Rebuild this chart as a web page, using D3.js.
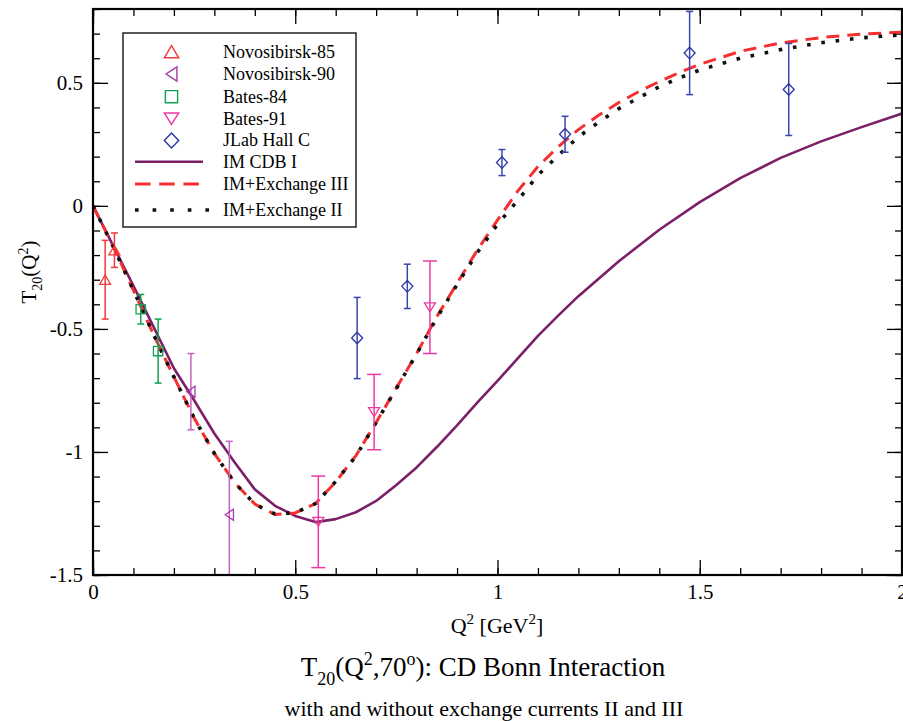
<!DOCTYPE html>
<html><head><meta charset="utf-8">
<script src="https://cdn.jsdelivr.net/npm/d3@7"></script>
<style>
body{margin:0;background:#fff}
svg{display:block}
text{font-family:"Liberation Serif","Times New Roman",serif;fill:#000}
</style>
</head><body>
<svg id="c" width="903" height="721"></svg>
<script>
// ---------------- data ----------------
const nov85Q = [0.030, 0.053];
const nov85T = [-0.300, -0.180];
const nov85E = [0.160, 0.070];

const nov90Q = [0.242, 0.337];
const nov90T = [-0.755, -1.255];
const nov90E = [0.155, 0.298];

const bates84Q = [0.118, 0.161];
const bates84T = [-0.420, -0.590];
const bates84E = [0.060, 0.130];

const bates91Q = [0.557, 0.695, 0.833];
const bates91T = [-1.284, -0.838, -0.412];
const bates91E = [0.186, 0.153, 0.188];

const jlabQ = [0.653, 0.777, 1.011, 1.167, 1.475, 1.720];
const jlabT = [-0.537, -0.327, 0.176, 0.291, 0.621, 0.473];
const jlabE = [0.165, 0.090, 0.053, 0.073, 0.169, 0.187];

const cdbQ = [0,0.1,0.2,0.25,0.3,0.35,0.4,0.45,0.5,0.55,0.6,0.65,0.7,0.75,0.8,0.85,0.9,0.95,1.0,1.05,1.1,1.15,1.2,1.3,1.4,1.5,1.6,1.7,1.8,1.9,2.0];
const cdbT = [0,-0.325,-0.66,-0.79,-0.925,-1.042,-1.152,-1.219,-1.26,-1.285,-1.273,-1.245,-1.199,-1.134,-1.063,-0.98,-0.892,-0.80,-0.711,-0.62,-0.528,-0.446,-0.367,-0.225,-0.097,0.015,0.113,0.195,0.262,0.32,0.375];

const exchQ = [0,0.05,0.1,0.15,0.2,0.25,0.3,0.35,0.4,0.45,0.5,0.55,0.6,0.65,0.7,0.75,0.8,0.85,0.9,0.95,1.0,1.05,1.1,1.15,1.2,1.25,1.3,1.35,1.4,1.45,1.5,1.6,1.7,1.8,1.9,2.0];
const exch3T = [0,-0.165,-0.343,-0.524,-0.695,-0.862,-1.006,-1.124,-1.212,-1.254,-1.248,-1.21,-1.122,-1.015,-0.88,-0.74,-0.60,-0.45,-0.315,-0.18,-0.058,0.06,0.16,0.24,0.31,0.368,0.42,0.465,0.505,0.542,0.575,0.628,0.662,0.684,0.698,0.706];
const exch2T = [0,-0.166,-0.343,-0.524,-0.695,-0.863,-1.006,-1.125,-1.212,-1.252,-1.247,-1.21,-1.12,-1.017,-0.88,-0.742,-0.602,-0.455,-0.32,-0.19,-0.075,0.022,0.125,0.205,0.28,0.34,0.395,0.44,0.484,0.52,0.552,0.6,0.635,0.663,0.683,0.695];

const xTickVals = [0, 0.5, 1, 1.5, 2];
const xTickLabels = ["0", "0.5", "1", "1.5", "2"];
const yTickVals = [-1.5, -1, -0.5, 0, 0.5];
const yTickLabels = ["-1.5", "-1", "-0.5", "0", "0.5"];

const legendLabels = ["Novosibirsk-85","Novosibirsk-90","Bates-84","Bates-91","JLab Hall C","IM CDB I","IM+Exchange III","IM+Exchange II"];

// ---------------- setup ----------------
const svg = d3.select("#c");
const L = 93, R = 902, T = 9, B = 575;
const x = d3.scaleLinear().domain([0, 2]).range([L, R]);
const y = d3.scaleLinear().domain([-1.5, 0.8]).range([B, T]);

svg.append("defs").append("clipPath").attr("id", "clip")
  .append("rect").attr("x", L).attr("y", T).attr("width", R - L).attr("height", B - T);

// ---------------- axes / ticks ----------------
function styleAxis(g) {
  g.select(".domain").remove();
  g.selectAll(".tick line").attr("stroke", "#000").attr("stroke-width", 1.3);
  g.selectAll("text").style("font-size", "21px").style("font-family", '"Liberation Serif", serif').attr("fill", "#000");
}
const minorX = d3.range(0, 2.0001, 0.1).map(v => +v.toFixed(2));
const minorY = d3.range(-1.5, 0.8001, 0.1).map(v => +v.toFixed(2));

const ix = {}; xTickVals.forEach((v, i) => ix[v] = xTickLabels[i]);
const iy = {}; yTickVals.forEach((v, i) => iy[v] = yTickLabels[i]);

// minor ticks
svg.append("g").attr("transform", `translate(0,${B})`)
  .call(d3.axisBottom(x).tickValues(minorX).tickSize(-7).tickFormat("")).call(styleAxis);
svg.append("g").attr("transform", `translate(0,${T})`)
  .call(d3.axisTop(x).tickValues(minorX).tickSize(-7).tickFormat("")).call(styleAxis);
svg.append("g").attr("transform", `translate(${L},0)`)
  .call(d3.axisLeft(y).tickValues(minorY).tickSize(-7).tickFormat("")).call(styleAxis);
svg.append("g").attr("transform", `translate(${R},0)`)
  .call(d3.axisRight(y).tickValues(minorY).tickSize(-7).tickFormat("")).call(styleAxis);
// major ticks
svg.append("g").attr("transform", `translate(0,${B})`)
  .call(d3.axisBottom(x).tickValues(xTickVals).tickSize(-15).tickPadding(9).tickFormat(d => ix[d])).call(styleAxis);
svg.append("g").attr("transform", `translate(0,${T})`)
  .call(d3.axisTop(x).tickValues(xTickVals).tickSize(-15).tickFormat("")).call(styleAxis);
svg.append("g").attr("transform", `translate(${L},0)`)
  .call(d3.axisLeft(y).tickValues(yTickVals).tickSize(-15).tickPadding(10).tickFormat(d => iy[d])).call(styleAxis);
svg.append("g").attr("transform", `translate(${R},0)`)
  .call(d3.axisRight(y).tickValues(yTickVals).tickSize(-15).tickFormat("")).call(styleAxis);

// ---------------- curves ----------------
const plot = svg.append("g").attr("clip-path", "url(#clip)");
const line = d3.line().x(d => x(d[0])).y(d => y(d[1]));
const zip = (a, b) => a.map((v, i) => [v, b[i]]);

plot.append("path").datum(zip(cdbQ, cdbT)).attr("d", line)
  .attr("fill", "none").attr("stroke", "#7b2068").attr("stroke-width", 2.6).attr("stroke-linejoin", "round");
plot.append("path").datum(zip(exchQ, exch3T)).attr("d", line)
  .attr("fill", "none").attr("stroke", "#f42f2f").attr("stroke-width", 3).attr("stroke-dasharray", "13,8");
plot.append("path").datum(zip(exchQ, exch2T)).attr("d", line)
  .attr("fill", "none").attr("stroke", "#111").attr("stroke-width", 3.6).attr("stroke-dasharray", "3.6,10.8");

// ---------------- markers ----------------
function markerPath(shape, r) {
  const p = d3.path();
  if (shape === "up") { p.moveTo(-r, 0.85 * r); p.lineTo(r, 0.85 * r); p.lineTo(0, -0.85 * r); p.closePath(); }
  else if (shape === "down") { p.moveTo(-r, -0.8 * r); p.lineTo(r, -0.8 * r); p.lineTo(0, 0.8 * r); p.closePath(); }
  else if (shape === "left") { p.moveTo(0.75 * r, -r); p.lineTo(0.75 * r, r); p.lineTo(-0.75 * r, 0); p.closePath(); }
  else if (shape === "square") { const s = 0.85 * r; p.rect(-s, -s, 2 * s, 2 * s); }
  else if (shape === "diamond") { p.moveTo(0, -1.05 * r); p.lineTo(r, 0); p.lineTo(0, 1.05 * r); p.lineTo(-r, 0); p.closePath(); }
  return p.toString();
}

const series = [
  {q: nov85Q, t: nov85T, e: nov85E, shape: "up", color: "#f03a3a", bar: "#f03a3a", cap: 7},
  {q: nov90Q, t: nov90T, e: nov90E, shape: "left", color: "#a83aa8", bar: "#c064c0", cap: 7},
  {q: bates84Q, t: bates84T, e: bates84E, shape: "square", color: "#12a050", bar: "#12a050", cap: 7},
  {q: bates91Q, t: bates91T, e: bates91E, shape: "down", color: "#ec3aa0", bar: "#ec3aa0", cap: 14},
  {q: jlabQ, t: jlabT, e: jlabE, shape: "diamond", color: "#2a36a6", bar: "#3a46b0", cap: 7}
];

series.forEach(s => {
  const g = plot.append("g");
  s.q.forEach((q, i) => {
    const cx = x(q), y1 = y(s.t[i] + s.e[i]), y2 = y(s.t[i] - s.e[i]);
    g.append("line").attr("x1", cx).attr("x2", cx).attr("y1", y1).attr("y2", y2)
      .attr("stroke", s.bar).attr("stroke-width", 1.5);
    [y1, y2].forEach(yy => g.append("line").attr("x1", cx - s.cap / 2).attr("x2", cx + s.cap / 2)
      .attr("y1", yy).attr("y2", yy).attr("stroke", s.bar).attr("stroke-width", 1.5));
    g.append("path").attr("d", markerPath(s.shape, 5.5))
      .attr("transform", `translate(${cx},${y(s.t[i])})`)
      .attr("fill", "none").attr("stroke", s.color).attr("stroke-width", 1.3);
  });
});

// ---------------- frame ----------------
svg.append("rect").attr("x", L).attr("y", T).attr("width", R - L).attr("height", B - T)
  .attr("fill", "none").attr("stroke", "#000").attr("stroke-width", 2.2);

// ---------------- legend ----------------
const lg = svg.append("g");
lg.append("rect").attr("x", 123).attr("y", 33).attr("width", 233).attr("height", 194)
  .attr("fill", "#fff").attr("stroke", "#222").attr("stroke-width", 1.5);
const rowY = [51.7, 74, 96.7, 118.7, 140.5, 161.7, 184, 210];
series.forEach((s, i) => {
  lg.append("path").attr("d", markerPath(s.shape, 7.2))
    .attr("transform", `translate(171.5,${rowY[i]})`)
    .attr("fill", "none").attr("stroke", s.color).attr("stroke-width", 1.4);
});
lg.append("line").attr("x1", 135).attr("x2", 203).attr("y1", rowY[5]).attr("y2", rowY[5])
  .attr("stroke", "#7b2068").attr("stroke-width", 2.6);
lg.append("line").attr("x1", 135).attr("x2", 203).attr("y1", rowY[6]).attr("y2", rowY[6])
  .attr("stroke", "#f42f2f").attr("stroke-width", 3).attr("stroke-dasharray", "15.5,8.7");
lg.append("line").attr("x1", 135).attr("x2", 210).attr("y1", rowY[7]).attr("y2", rowY[7])
  .attr("stroke", "#111").attr("stroke-width", 3.6).attr("stroke-dasharray", "3.6,14");
legendLabels.forEach((t, i) => {
  lg.append("text").attr("x", 223).attr("y", rowY[i]).attr("dy", "0.33em")
    .style("font-size", "18px").text(t);
});

// ---------------- labels ----------------
// y label
const yl = svg.append("text").attr("transform", "translate(36,272) rotate(-90)")
  .attr("text-anchor", "middle").style("font-size", "21px");
yl.append("tspan").text("T");
yl.append("tspan").attr("dy", 6).style("font-size", "14px").text("20");
yl.append("tspan").attr("dy", -6).text("(Q");
yl.append("tspan").attr("dy", -8).style("font-size", "14px").text("2");
yl.append("tspan").attr("dy", 8).text(")");

// x label
const xl = svg.append("text").attr("x", 497).attr("y", 633)
  .attr("text-anchor", "middle").style("font-size", "22px");
xl.append("tspan").text("Q");
xl.append("tspan").attr("dy", -9).style("font-size", "15px").text("2");
xl.append("tspan").attr("dy", 9).text(" [GeV");
xl.append("tspan").attr("dy", -9).style("font-size", "15px").text("2");
xl.append("tspan").attr("dy", 9).text("]");

// title
const tt = svg.append("text").attr("x", 483).attr("y", 676)
  .attr("text-anchor", "middle").style("font-size", "27px");
tt.append("tspan").text("T");
tt.append("tspan").attr("dy", 9).style("font-size", "18px").text("20");
tt.append("tspan").attr("dy", -9).text("(Q");
tt.append("tspan").attr("dy", -11).style("font-size", "18px").text("2");
tt.append("tspan").attr("dy", 11).text(",70");
tt.append("tspan").attr("dy", -11).style("font-size", "18px").text("o");
tt.append("tspan").attr("dy", 11).text("): CD Bonn Interaction");

// subtitle
svg.append("text").attr("x", 484).attr("y", 716).attr("text-anchor", "middle")
  .style("font-size", "22px").text("with and without exchange currents II and III");
</script>
</body></html>
